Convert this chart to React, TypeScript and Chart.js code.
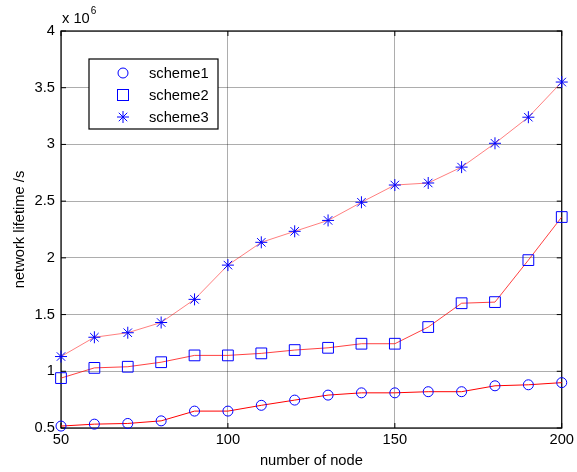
import React, { useEffect, useRef } from "react";
import { Chart, registerables } from "chart.js";

Chart.register(...registerables);

const nodes = [50, 60, 70, 80, 90, 100, 110, 120, 130, 140, 150, 160, 170, 180, 190, 200];
const scheme1 = [0.517, 0.534, 0.54, 0.563, 0.649, 0.649, 0.70, 0.746, 0.79, 0.81, 0.81, 0.82, 0.82, 0.872, 0.881, 0.90];
const scheme2 = [0.94, 1.03, 1.04, 1.08, 1.14, 1.14, 1.158, 1.187, 1.207, 1.243, 1.243, 1.39, 1.60, 1.61, 1.98, 2.36];
const scheme3 = [1.13, 1.30, 1.34, 1.43, 1.634, 1.936, 2.137, 2.234, 2.33, 2.49, 2.642, 2.66, 2.80, 3.01, 3.24, 3.55];
const seriesNames = ["scheme1", "scheme2", "scheme3"];
const xTitle = "number of node";
const yTitle = "network lifetime /s";

const FONT = "Liberation Sans, Arial, sans-serif";
const FS = 14.7;

const framePlugin = {
  id: "frame",
  beforeDatasetsDraw(chart: any) {
    const { ctx, chartArea: a, scales } = chart;
    ctx.save();
    ctx.strokeStyle = "#000";
    ctx.lineWidth = 1.2;
    ctx.strokeRect(a.left, a.top, a.right - a.left, a.bottom - a.top);
    ctx.lineWidth = 1;
    const tl = 5;
    scales.x.ticks.forEach((t: any) => {
      const x = scales.x.getPixelForValue(t.value);
      ctx.beginPath();
      ctx.moveTo(x, a.bottom); ctx.lineTo(x, a.bottom - tl);
      ctx.moveTo(x, a.top); ctx.lineTo(x, a.top + tl);
      ctx.stroke();
    });
    scales.y.ticks.forEach((t: any) => {
      const y = scales.y.getPixelForValue(t.value);
      ctx.beginPath();
      ctx.moveTo(a.left, y); ctx.lineTo(a.left + tl, y);
      ctx.moveTo(a.right, y); ctx.lineTo(a.right - tl, y);
      ctx.stroke();
    });
    ctx.restore();
  },
  afterDraw(chart: any) {
    const { ctx, chartArea: a } = chart;
    ctx.save();
    ctx.fillStyle = "#000";
    ctx.font = `${FS}px ${FONT}`;
    ctx.textAlign = "left";
    ctx.textBaseline = "alphabetic";
    ctx.fillText("x 10", 62, 23);
    const w = ctx.measureText("x 10").width;
    ctx.font = `10px ${FONT}`;
    ctx.fillText("6", 62 + w + 1, 14);
    ctx.font = `${FS}px ${FONT}`;
    ctx.textAlign = "center";
    ctx.textBaseline = "middle";
    ctx.fillText(xTitle, (a.left + a.right) / 2, 461);
    ctx.translate(20, (a.top + a.bottom) / 2);
    ctx.rotate(-Math.PI / 2);
    ctx.fillText(yTitle, 0, 0);
    ctx.restore();

    ctx.save();
    const bx = 89, by = 59, bw = 129, bh = 70;
    ctx.fillStyle = "#fff";
    ctx.fillRect(bx, by, bw, bh);
    ctx.strokeStyle = "#000";
    ctx.lineWidth = 1.2;
    ctx.strokeRect(bx, by, bw, bh);
    const rows = [73, 95, 117];
    const mx = 123;
    ctx.strokeStyle = "#0000ff";
    ctx.lineWidth = 1;
    ctx.beginPath();
    ctx.arc(mx, rows[0], 5, 0, Math.PI * 2);
    ctx.stroke();
    ctx.strokeRect(mx - 5.5, rows[1] - 5.5, 11, 11);
    const r = 6, d = r * Math.SQRT1_2;
    ctx.beginPath();
    ctx.moveTo(mx - r, rows[2]); ctx.lineTo(mx + r, rows[2]);
    ctx.moveTo(mx, rows[2] - r); ctx.lineTo(mx, rows[2] + r);
    ctx.moveTo(mx - d, rows[2] - d); ctx.lineTo(mx + d, rows[2] + d);
    ctx.moveTo(mx - d, rows[2] + d); ctx.lineTo(mx + d, rows[2] - d);
    ctx.stroke();
    ctx.fillStyle = "#000";
    ctx.font = `${FS}px ${FONT}`;
    ctx.textAlign = "left";
    ctx.textBaseline = "middle";
    seriesNames.forEach((n, i) => ctx.fillText(n, 149, rows[i] + 1));
    ctx.restore();
  },
};

export default function App() {
  const ref = useRef<HTMLCanvasElement>(null);
  useEffect(() => {
    document.body.style.margin = "0";
    const mk = (vals: number[]) => nodes.map((x, i) => ({ x, y: vals[i] }));
    const common = {
      showLine: true,
      fill: false,
      borderWidth: 1,
      pointBorderColor: "#0000ff",
      pointBackgroundColor: "rgba(0,0,0,0)",
      pointBorderWidth: 1,
      clip: false as any,
      tension: 0,
    };
    const chart = new Chart(ref.current!, {
      type: "line",
      data: {
        datasets: [
          { ...common, label: seriesNames[0], data: mk(scheme1), borderColor: "#ff0000", pointStyle: "circle", pointRadius: 5 },
          { ...common, label: seriesNames[1], data: mk(scheme2), borderColor: "rgba(255,0,0,0.75)", pointStyle: "rect", pointRadius: 7.6 },
          { ...common, label: seriesNames[2], data: mk(scheme3), borderColor: "rgba(255,0,0,0.5)", pointStyle: "star", pointRadius: 6 },
        ] as any,
      },
      options: {
        responsive: false,
        animation: false,
        events: [],
        layout: { padding: { left: 0, top: 31, right: 13, bottom: 0 } },
        plugins: { legend: { display: false }, tooltip: { enabled: false }, title: { display: false } },
        scales: {
          x: {
            type: "linear",
            min: 50,
            max: 200,
            afterFit: (s: any) => { s.height = 44; },
            ticks: { stepSize: 50, color: "#000", padding: 3, font: { family: FONT, size: FS }, maxRotation: 0, callback: (v: any) => String(Number(v)) },
            grid: { color: "rgba(0,0,0,0.32)", lineWidth: 1, drawTicks: false, tickLength: 0 },
            border: { display: false },
          },
          y: {
            type: "linear",
            min: 0.5,
            max: 4,
            afterFit: (s: any) => { s.width = 61; },
            ticks: { stepSize: 0.5, color: "#000", padding: 6, font: { family: FONT, size: FS }, callback: (v: any) => String(Number(v)) },
            grid: { color: "rgba(0,0,0,0.32)", lineWidth: 1, drawTicks: false, tickLength: 0 },
            border: { display: false },
          },
        },
      },
      plugins: [framePlugin],
    });
    return () => chart.destroy();
  }, []);
  return <canvas ref={ref} width={577} height={472} style={{ display: "block", width: 577, height: 472 }} />;
}
